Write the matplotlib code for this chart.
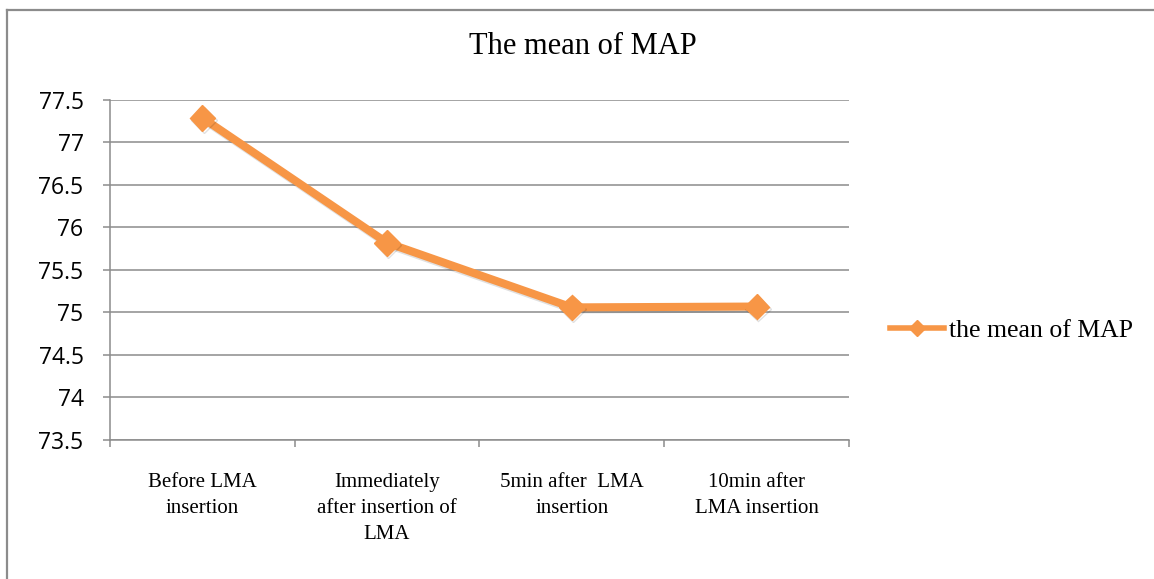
import numpy as np
import matplotlib.pyplot as plt
import matplotlib.patheffects as pe
from matplotlib.lines import Line2D

# data
categories = ["Before LMA\ninsertion",
              "Immediately\nafter insertion of\nLMA",
              "5min after  LMA\ninsertion",
              "10min after\nLMA insertion"]
map_mean = [77.29, 75.82, 75.06, 75.07]
y_ticks = [73.5, 74, 74.5, 75, 75.5, 76, 76.5, 77, 77.5]
y_labels = ["73.5", "74", "74.5", "75", "75.5", "76", "76.5", "77", "77.5"]

orange = "#F79646"
grey = "#8c8c8c"
serif = "Liberation Serif"

fig = plt.figure(figsize=(11.54, 5.79), dpi=100)
ax = fig.add_axes([0.0953, 0.2401, 0.6404, 0.5872])

x = np.arange(len(categories))
ax.plot(x, map_mean, color=orange, lw=5.8, marker="D", ms=13,
        solid_capstyle="round",
        path_effects=[pe.SimpleLineShadow(offset=(1, -1.5), alpha=0.12), pe.Normal()])

ax.set_xlim(-0.5, len(categories) - 0.5)
ax.set_ylim(73.5, 77.5)
ax.set_yticks(y_ticks)
ax.set_yticklabels(y_labels, fontname="Open Sans", fontsize=16.5)
ax.grid(axis="y", color=grey, lw=1.1)
ax.set_axisbelow(True)

ax.set_xticks(np.arange(-0.5, len(categories), 1.0))
ax.set_xticklabels([])
ax.set_xticks(x, minor=True)
ax.set_xticklabels(categories, minor=True, fontname=serif, fontsize=15,
                   linespacing=1.5)
ax.tick_params(axis="x", which="major", length=5, width=1.1, color=grey)
ax.tick_params(axis="x", which="minor", length=0, pad=24)
ax.tick_params(axis="y", length=5, width=1.1, color=grey, pad=14)

for s in ["top", "right"]:
    ax.spines[s].set_visible(False)
for s in ["left", "bottom"]:
    ax.spines[s].set_color(grey)
    ax.spines[s].set_linewidth(1.1)

fig.text(0.505, 0.919, "The mean of MAP", ha="center", va="center",
         fontname=serif, fontsize=22)

# legend
handle = Line2D([], [], color=orange, lw=4, marker="D", ms=8)
leg = fig.legend([handle], ["the mean of MAP"], loc="center left",
                 bbox_to_anchor=(0.751, 0.43), frameon=False,
                 handlelength=2.1, handletextpad=0.2,
                 prop={"family": serif, "size": 18.5})

# outer chart frame
fig.add_artist(Line2D([0.006, 1.0], [0.983, 0.983], color=grey, lw=1.6))
fig.add_artist(Line2D([0.006, 0.006], [0.0, 0.983], color=grey, lw=1.6))

fig.savefig("out.png", dpi=100)
